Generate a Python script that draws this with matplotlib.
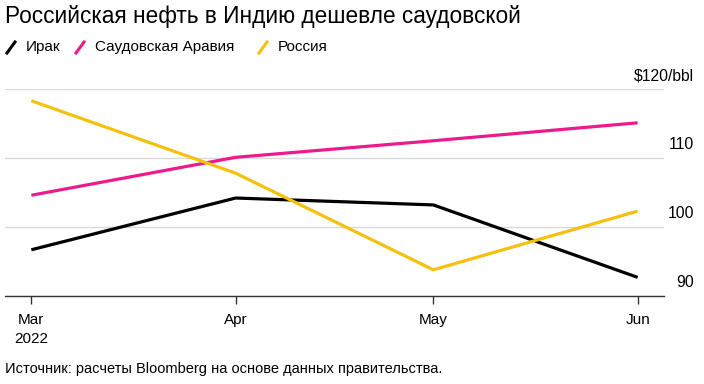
import matplotlib
matplotlib.use("Agg")
import matplotlib.pyplot as plt
import matplotlib.dates as mdates
from matplotlib.lines import Line2D
import numpy as np
import datetime as dt

plt.rcParams['font.family'] = ['Liberation Sans', 'DejaVu Sans']

dates = [dt.date(2022, 3, 1), dt.date(2022, 4, 1), dt.date(2022, 5, 1), dt.date(2022, 6, 1)]
iraq = [96.7, 104.2, 103.2, 92.7]
saudi = [104.6, 110.1, 112.5, 115.1]
russia = [118.3, 107.8, 93.8, 102.3]
series_names = ["Ирак", "Саудовская Аравия", "Россия"]
colors = ["#000000", "#ec1a8b", "#f5c10e"]
tick_labels = ["Mar\n2022", "Apr", "May", "Jun"]
y_ticks = [90, 100, 110, 120]
y_labels = ["90", "100", "110", "$120/bbl"]

W, H = 704, 384
fig = plt.figure(figsize=(W / 100, H / 100), dpi=100)
ax = fig.add_axes([5 / W, (H - 296) / H, (664 - 5) / W, (296 - 89) / H])

for vals, c in zip([iraq, saudi, russia], colors):
    ax.plot(dates, vals, color=c, lw=2.3, solid_capstyle='butt', clip_on=False, zorder=3)

ax.set_xlim(dt.date(2022, 2, 25), dt.date(2022, 6, 5))
ax.set_ylim(90, 120)

for s in ['top', 'right', 'left']:
    ax.spines[s].set_visible(False)
ax.spines['bottom'].set_color('#333333')
ax.spines['bottom'].set_linewidth(1.0)

ax.set_yticks(y_ticks)
ax.set_yticklabels([])
ax.tick_params(axis='y', length=0)
ax.grid(axis='y', color='#d9d9d9', lw=1)
ax.set_axisbelow(True)

ax.set_xticks(dates)
ax.set_xticklabels(tick_labels, fontsize=11, color='#000000', linespacing=1.5)
ax.tick_params(axis='x', length=6, width=1, color='#333333', pad=6)

# y labels at right, above gridlines
for v, lab in zip(y_ticks, y_labels):
    ax.annotate(lab, xy=(1, v), xycoords=('axes fraction', 'data'),
                xytext=(21.5, 4), textcoords='offset points', ha='right', va='bottom',
                fontsize=11.3, color='#000000')

fig.text(5 / W, 1 - 17 / H, "Российская нефть в Индию дешевле саудовской",
         fontsize=16.3, va='center', ha='left', color='#000000')

# legend
lx = [7, 76, 259]
for x0, name, c in zip(lx, series_names, colors):
    fig.add_artist(Line2D([(x0) / W, (x0 + 8) / W], [1 - 53 / H, 1 - 42 / H],
                          color=c, lw=2.2, transform=fig.transFigure))
    fig.text((x0 + 19) / W, 1 - 47 / H, name, fontsize=11, va='center', ha='left')

fig.text(5 / W, 1 - 369 / H, "Источник: расчеты Bloomberg на основе данных правительства.",
         fontsize=10.5, va='center', ha='left', color='#000000')

fig.savefig("out.png", dpi=100, facecolor='white')
